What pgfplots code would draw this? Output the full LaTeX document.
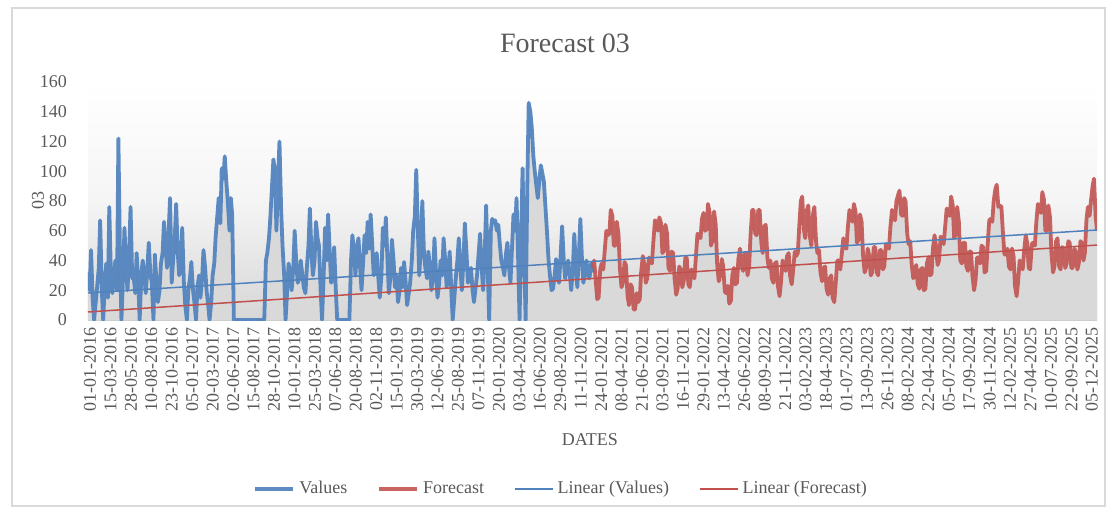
\documentclass[border=0pt]{standalone}
\usepackage{fontspec}
\setmainfont{Liberation Serif}
\usepackage{pgfplots}
\pgfplotsset{compat=1.18}
\usepackage{pgfplotstable}
\definecolor{vblue}{HTML}{4F81BD}
\definecolor{fred}{HTML}{C0504D}
\definecolor{txt}{HTML}{595959}

\pgfplotstableread{
x y
0 32
6 20
11 47
17 14
22 0
28 12
33 22
39 35
44 67
50 20
55 0
61 25
66 38
72 15
77 76
83 30
88 18
94 28
99 40
105 20
110 122
116 40
121 0
127 30
132 62
138 35
143 20
149 45
154 76
160 28
165 30
171 18
176 45
182 25
187 0
193 30
198 40
204 30
209 18
215 35
220 52
226 30
231 25
237 0
242 44
248 25
253 12
259 20
264 38
270 45
275 66
281 48
286 35
292 60
297 82
303 25
308 40
314 55
319 78
325 45
330 30
336 40
341 62
347 25
352 10
358 0
363 20
369 28
374 39
380 20
385 12
391 0
396 22
402 30
407 15
413 28
418 47
424 35
429 20
435 10
440 0
446 12
451 30
457 38
462 56
468 70
473 82
479 65
484 102
490 95
495 110
501 92
506 80
512 60
517 82
522 70
528 0
638 0
644 40
649 45
655 55
660 69
666 90
671 108
677 100
682 60
688 95
693 120
699 75
704 50
710 30
715 0
721 20
726 38
732 30
737 20
743 35
748 60
754 38
759 25
765 28
770 40
776 30
781 22
787 18
792 35
798 50
803 75
809 45
814 30
820 40
825 66
831 55
836 50
842 20
847 0
853 30
858 62
864 40
869 71
875 45
880 25
886 30
891 49
897 20
902 0
946 0
952 40
957 57
963 45
968 30
974 50
979 55
985 35
990 20
996 40
1001 57
1007 45
1012 66
1018 48
1023 71
1029 50
1034 30
1040 38
1045 45
1051 28
1056 15
1062 30
1067 62
1073 50
1078 69
1084 40
1089 18
1095 30
1100 54
1106 40
1111 22
1117 30
1122 12
1128 20
1133 35
1139 22
1144 39
1150 25
1155 10
1161 18
1166 25
1172 40
1177 60
1183 70
1188 101
1194 60
1199 30
1205 50
1210 80
1216 45
1221 35
1227 28
1232 46
1238 35
1243 20
1249 30
1254 55
1260 30
1265 15
1271 25
1276 40
1282 30
1287 55
1293 40
1298 22
1304 30
1309 46
1315 20
1320 0
1326 15
1331 28
1337 40
1342 55
1348 35
1353 20
1359 40
1364 65
1370 45
1375 25
1381 30
1386 35
1392 20
1397 12
1403 22
1408 30
1414 45
1419 58
1425 35
1430 20
1436 45
1441 77
1446 40
1452 0
1458 60
1463 68
1469 66
1474 67
1480 60
1485 64
1491 50
1496 40
1502 35
1507 30
1513 45
1518 52
1524 35
1529 25
1535 50
1540 71
1546 60
1551 82
1557 40
1562 0
1568 60
1573 102
1579 40
1584 0
1590 90
1595 146
1601 140
1606 130
1612 110
1617 100
1623 90
1628 82
1634 95
1639 104
1645 98
1650 93
1656 75
1661 60
1667 40
1672 30
1678 20
1683 21
1689 30
1694 41
1700 30
1705 25
1711 45
1716 63
1722 40
1727 28
1733 35
1738 40
1744 30
1749 20
1755 35
1760 58
1766 35
1771 22
1777 45
1782 68
1788 40
1793 25
1799 32
1804 40
1810 30
1815 28
1821 38
1826 32
}\vals

\pgfplotstableread{
x y
1827 35
1832 40
1837 28
1843 14
1848 15
1854 34
1859 38
1865 34
1870 46
1876 60
1881 57
1887 58
1892 74
1898 70
1903 50
1909 50
1914 66
1920 58
1925 35
1931 22
1936 25
1942 39
1947 37
1953 16
1958 10
1964 24
1969 22
1975 7
1980 7
1986 18
1991 12
1997 14
2002 32
2008 43
2013 38
2019 25
2024 28
2030 42
2035 40
2041 38
2046 52
2052 67
2057 66
2063 60
2068 69
2074 65
2079 45
2085 47
2090 64
2096 58
2101 35
2107 33
2112 46
2118 45
2123 28
2129 17
2134 21
2140 36
2145 34
2151 22
2156 26
2162 42
2167 42
2173 24
2178 22
2184 34
2189 30
2195 28
2200 42
2206 58
2211 57
2217 55
2222 68
2228 72
2233 60
2239 61
2244 78
2250 72
2255 50
2261 54
2266 73
2272 64
2277 38
2283 26
2288 30
2294 41
2299 36
2305 19
2310 18
2316 23
2321 11
2327 13
2332 30
2338 35
2343 24
2349 25
2354 41
2360 48
2365 38
2371 33
2376 44
2382 45
2387 30
2393 36
2398 57
2404 74
2409 74
2415 58
2420 57
2426 74
2431 74
2437 52
2442 45
2448 63
2453 64
2459 42
2464 35
2470 40
2475 28
2481 25
2486 38
2492 39
2497 23
2503 16
2508 25
2514 40
2519 38
2525 33
2530 43
2536 45
2541 30
2547 24
2552 33
2558 46
2563 43
2569 45
2574 62
2580 80
2585 83
2591 61
2596 55
2602 74
2607 77
2613 56
2618 50
2624 71
2629 76
2635 53
2640 45
2646 47
2651 32
2657 26
2662 35
2668 36
2673 21
2679 17
2684 28
2690 30
2695 15
2701 12
2706 24
2712 40
2717 40
2723 34
2728 44
2734 55
2739 49
2745 48
2750 62
2756 74
2761 70
2767 66
2772 78
2778 73
2783 52
2789 54
2794 71
2800 66
2805 44
2811 32
2816 35
2822 48
2827 44
2833 30
2838 32
2844 49
2849 49
2855 32
2860 30
2866 47
2871 47
2877 34
2882 36
2888 51
2893 49
2899 48
2904 62
2910 74
2915 70
2921 67
2926 80
2932 84
2937 87
2943 71
2948 70
2954 82
2959 80
2965 58
2970 51
2976 53
2981 38
2987 28
2992 33
2998 37
3003 24
3009 21
3014 34
3020 35
3025 20
3031 21
3036 38
3042 42
3047 30
3053 31
3058 48
3064 57
3069 50
3075 37
3080 40
3086 56
3091 55
3097 51
3102 62
3108 75
3113 72
3119 70
3124 83
3130 77
3135 55
3141 58
3146 76
3152 66
3157 40
3163 38
3168 52
3174 52
3179 36
3185 33
3190 46
3196 46
3201 30
3207 20
3212 26
3218 42
3223 42
3229 38
3234 50
3240 49
3245 32
3251 33
3256 50
3262 67
3267 68
3273 66
3278 80
3284 88
3289 91
3295 76
3300 77
3306 76
3311 60
3317 44
3322 44
3328 48
3333 36
3339 34
3344 48
3350 43
3355 23
3361 16
3366 25
3372 40
3377 38
3383 34
3388 46
3394 57
3399 52
3405 35
3410 34
3416 51
3421 52
3427 50
3432 65
3438 78
3443 75
3449 72
3454 86
3460 81
3465 60
3471 60
3476 77
3482 69
3487 45
3493 32
3498 36
3504 53
3509 55
3515 36
3520 34
3526 49
3531 48
3537 35
3542 38
3548 53
3553 52
3559 35
3564 35
3570 48
3575 46
3581 34
3586 38
3592 53
3597 52
3603 40
3608 45
3614 68
3619 76
3625 70
3630 80
3636 90
3641 95
3647 70
3652 60
}\fcst

\begin{document}
\begin{tikzpicture}
\path[use as bounding box] (-44pt,-94.5pt) rectangle (509.5pt,160pt);
\draw[black!15, line width=0.6pt] (-38pt,-93pt) rectangle (508.5pt,156pt);
\begin{axis}[
  at={(0,0)}, anchor=south west,
  scale only axis, width=504.5pt, height=119pt,
  xmin=0, xmax=3652, ymin=0, ymax=160,
  xtick={0,74,...,3626},
  xticklabels={01-01-2016,15-03-2016,28-05-2016,10-08-2016,23-10-2016,05-01-2017,20-03-2017,02-06-2017,15-08-2017,28-10-2017,10-01-2018,25-03-2018,07-06-2018,20-08-2018,02-11-2018,15-01-2019,30-03-2019,12-06-2019,25-08-2019,07-11-2019,20-01-2020,03-04-2020,16-06-2020,29-08-2020,11-11-2020,24-01-2021,08-04-2021,21-06-2021,03-09-2021,16-11-2021,29-01-2022,13-04-2022,26-06-2022,08-09-2022,21-11-2022,03-02-2023,18-04-2023,01-07-2023,13-09-2023,26-11-2023,08-02-2024,22-04-2024,05-07-2024,17-09-2024,30-11-2024,12-02-2025,27-04-2025,10-07-2025,22-09-2025,05-12-2025},
  ytick={0,20,...,160},
  axis x line*=bottom, axis y line*=left,
  x axis line style={-, draw=black!20, line width=0.8pt},
  y axis line style={draw=none},
  tick style={draw=none},
  /pgf/number format/assume math mode=true,
  tick label style={font=\fontsize{9}{10}\selectfont, text=txt},
  x tick label style={rotate=90, anchor=east, yshift=-1pt},
  y tick label style={xshift=-7pt},
  xlabel={DATES}, ylabel={03},
  label style={font=\fontsize{9}{10}\selectfont, text=txt},
  xlabel style={at={(axis description cs:0.4975,-0.504)}, anchor=center},
  ylabel style={at={(axis description cs:-0.0496,0.504)}, anchor=center},
  axis background/.style={shade, top color=white, bottom color=black!16, middle color=black!4},
  legend style={at={(axis description cs:0.47,-0.71)}, anchor=center, draw=none, fill=none,
    font=\fontsize{9}{10}\selectfont, text=txt, legend columns=4,
    /tikz/every even column/.append style={column sep=13pt}},
  legend image code/.code={\draw[#1] (0pt,0pt) -- (19pt,0pt);},
]
\addplot[draw=none, fill=black!15, forget plot] table[x=x,y=y]{\vals} \closedcycle;
\addplot[draw=none, fill=black!15, forget plot] table[x=x,y=y]{\fcst} \closedcycle;
\addplot[vblue, line width=1.9pt, line join=round, opacity=0.92] table[x=x,y=y]{\vals};
\addlegendentry{Values}
\addplot[fred, line width=1.9pt, line join=round, opacity=0.88] table[x=x,y=y]{\fcst};
\addlegendentry{Forecast}
\addplot[vblue, line width=0.75pt] coordinates {(0,18.2) (3652,60.5)};
\addlegendentry{Linear (Values)}
\addplot[fred, line width=0.75pt] coordinates {(0,5.4) (3652,50.4)};
\addlegendentry{Linear (Forecast)}
\end{axis}
\node[font=\fontsize{14}{16}\selectfont, text=txt] at (238.5pt,138.5pt) {Forecast 03};
\end{tikzpicture}
\end{document}
